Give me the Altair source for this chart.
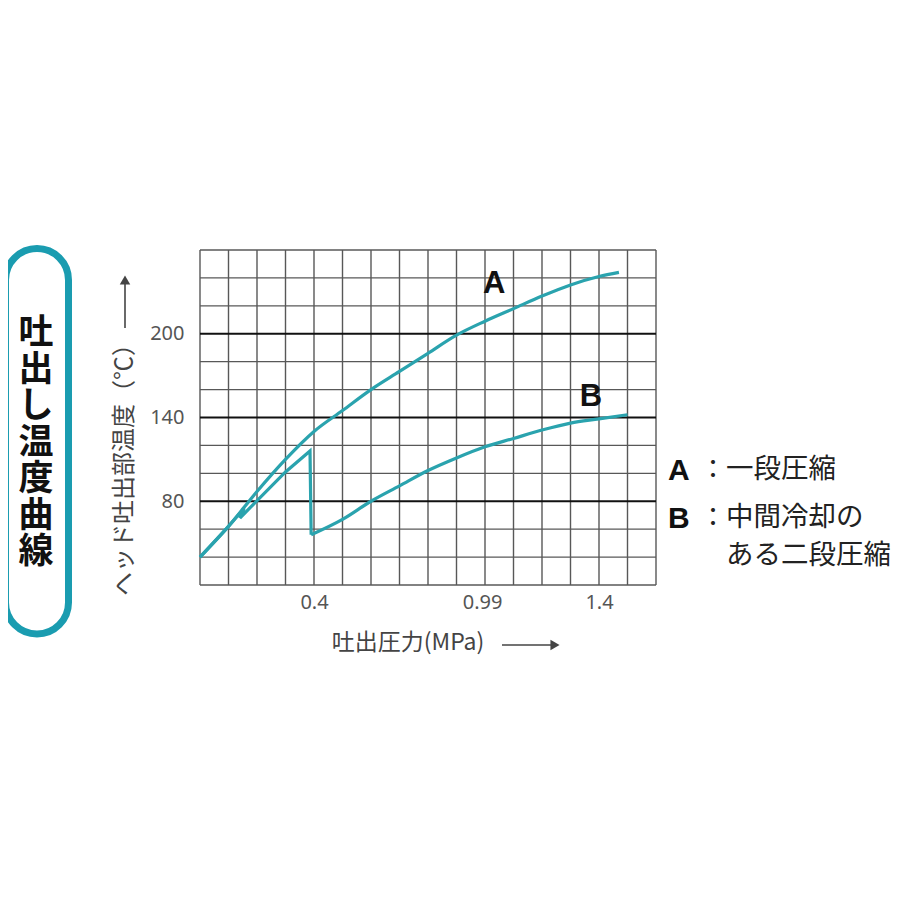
import altair as alt
import pandas as pd

# ---- data ----
pressure_a = [0.0, 0.1, 0.2, 0.3, 0.4, 0.5, 0.6, 0.7, 0.8, 0.9, 1.0, 1.1, 1.2, 1.3, 1.4, 1.47]
temp_a = [40, 62, 87, 110, 130, 145, 160, 173, 186, 199, 209, 218, 227, 235, 241, 244]

# curve B: first stage (with small hook), then the drop at intercooling, then second stage
pressure_b1 = [0.0, 0.1, 0.155, 0.14, 0.3, 0.386, 0.39]
temp_b1 = [40, 62, 75, 68, 101, 116, 56]
pressure_b2 = [0.39, 0.5, 0.6, 0.7, 0.8, 0.9, 1.0, 1.1, 1.2, 1.3, 1.4, 1.5]
temp_b2 = [56, 67, 80, 91, 102, 111, 119, 125, 131, 136, 139, 142]

x_grid = [0.0, 0.1, 0.2, 0.3, 0.4, 0.5, 0.6, 0.7, 0.8, 0.9, 1.0, 1.1, 1.2, 1.3, 1.4, 1.5, 1.6]
y_grid = [20, 40, 60, 100, 120, 160, 180, 220, 240, 260]
y_major = [80, 140, 200]
x_ticks = [0.4, 0.99, 1.4]

curve_names = ["A", "B"]
curve_label_x = [1.032, 1.372]
curve_label_y = [236, 155]

legend_keys = ["A", "B"]
legend_lines = ["一段圧縮", "中間冷却の", "ある二段圧縮"]
side_title = list("吐出し温度曲線")
y_title = "ヘッド吐出部温度（℃）"
x_title = "吐出圧力(MPa)"

# ---- tables ----
df_a = pd.DataFrame({"p": pressure_a, "t": temp_a})
df_b1 = pd.DataFrame({"p": pressure_b1, "t": temp_b1, "i": range(len(pressure_b1))})
df_b2 = pd.DataFrame({"p": pressure_b2, "t": temp_b2})
df_xg = pd.DataFrame({"p": x_grid})
df_yg = pd.DataFrame({"t": y_grid})
df_ym = pd.DataFrame({"t": y_major})
df_lab = pd.DataFrame({"p": curve_label_x, "t": curve_label_y, "name": curve_names})
one = pd.DataFrame({"k": [0]})

xs = alt.Scale(domain=[0, 1.6], nice=False, zero=False)
ys = alt.Scale(domain=[20, 260], nice=False, zero=False)

x_axis = alt.Axis(values=x_ticks, labelExpr="datum.value == 0.99 ? '0.99' : format(datum.value, '.1f')",
                  domain=False, ticks=False, grid=False, labelFontSize=20, labelColor="#555",
                  labelFont="Noto Sans", labelPadding=7, title=None)
y_axis = alt.Axis(values=y_major, domain=False, ticks=False, grid=False, labelFontSize=20,
                  labelColor="#555", labelFont="Noto Sans", labelPadding=16, title=None)

TEAL = "#2aa3ae"
INK = "#444"

def X():
    return alt.X("p:Q", scale=xs, axis=x_axis)

def Y():
    return alt.Y("t:Q", scale=ys, axis=y_axis)

vgrid = alt.Chart(df_xg).mark_rule(color="#585858", strokeWidth=1.4).encode(x=X())
hgrid = alt.Chart(df_yg).mark_rule(color="#585858", strokeWidth=1.4).encode(y=Y())
hmajor = alt.Chart(df_ym).mark_rule(color="#111", strokeWidth=2.2).encode(y=Y())

line_a = alt.Chart(df_a).mark_line(color=TEAL, strokeWidth=3.2, interpolate="monotone").encode(x=X(), y=Y())
line_b1 = alt.Chart(df_b1).mark_line(color=TEAL, strokeWidth=3.2, strokeJoin="miter").encode(
    x=X(), y=Y(), order="i:Q")
line_b2 = alt.Chart(df_b2).mark_line(color=TEAL, strokeWidth=3.2, interpolate="monotone").encode(x=X(), y=Y())

labels = alt.Chart(df_lab).mark_text(font="Liberation Sans", fontWeight="bold", fontSize=31,
                                     color="#111").encode(x=X(), y=Y(), text="name:N")

# ---- decorations (pixel positions relative to the plot origin) ----
box = alt.Chart(one).mark_rect(cornerRadius=33, fillOpacity=0, stroke="#1a9cb0", strokeWidth=7).encode(
    x=alt.value(-194.5), x2=alt.value(-131.5), y=alt.value(-1.5), y2=alt.value(384))

side_layers = []
for k, ch in enumerate(side_title):
    side_layers.append(
        alt.Chart(one).mark_text(font="Noto Sans CJK JP", fontWeight="bold", fontSize=35,
                                 color="#111", baseline="middle").encode(
            x=alt.value(-164), y=alt.value(83 + k * 36.5), text=alt.value(ch)))

ytitle = alt.Chart(one).mark_text(font="Noto Sans CJK JP", fontSize=24, angle=270, color=INK,
                                  baseline="middle").encode(
    x=alt.value(-75), y=alt.value(214), text=alt.value(y_title))
yarrow = alt.Chart(one).mark_rule(color=INK, strokeWidth=1.6).encode(
    x=alt.value(-75), y=alt.value(34), y2=alt.value(78))
yhead = alt.Chart(one).mark_point(shape="triangle-up", filled=True, size=110, color=INK, opacity=1).encode(
    x=alt.value(-75), y=alt.value(30))

xtitle = alt.Chart(one).mark_text(font="Noto Sans CJK JP", fontSize=23, color=INK,
                                  baseline="middle").encode(
    x=alt.value(208), y=alt.value(393), text=alt.value(x_title))
xarrow = alt.Chart(one).mark_rule(color=INK, strokeWidth=1.6).encode(
    x=alt.value(302), x2=alt.value(352), y=alt.value(395))
xhead = alt.Chart(one).mark_point(shape="triangle-right", filled=True, size=110, color=INK, opacity=1).encode(
    x=alt.value(355), y=alt.value(395))

def txt(s, x, y, font, size, weight="normal", color="#222"):
    return alt.Chart(one).mark_text(font=font, fontSize=size, fontWeight=weight, color=color,
                                    align="left", baseline="middle").encode(
        x=alt.value(x), y=alt.value(y), text=alt.value(s))

legA = txt(legend_keys[0], 468, 221, "Liberation Sans", 30, "bold", "#111")
legB = txt(legend_keys[1], 468, 269, "Liberation Sans", 30, "bold", "#111")
colA = txt("：", 500, 220, "Noto Sans CJK JP", 26)
colB = txt("：", 500, 268, "Noto Sans CJK JP", 26)
leg1 = txt(legend_lines[0], 526, 220, "Noto Sans CJK JP", 27.5)
leg2 = txt(legend_lines[1], 526, 268, "Noto Sans CJK JP", 27.5)
leg3 = txt(legend_lines[2], 526, 306, "Noto Sans CJK JP", 27.5)

chart = alt.layer(
    vgrid, hgrid, hmajor, line_a, line_b1, line_b2, labels,
    box, *side_layers, ytitle, yarrow, yhead, xtitle, xarrow, xhead,
    legA, legB, colA, colB, leg1, leg2, leg3,
).properties(
    width=456, height=335,
    padding={"left": 192, "top": 242, "right": 236, "bottom": 300},
    autosize=alt.AutoSizeParams(type="none"),
    background="white",
).configure_view(stroke=None)

chart.save("out.html", embed_options={"renderer": "svg", "actions": False})
